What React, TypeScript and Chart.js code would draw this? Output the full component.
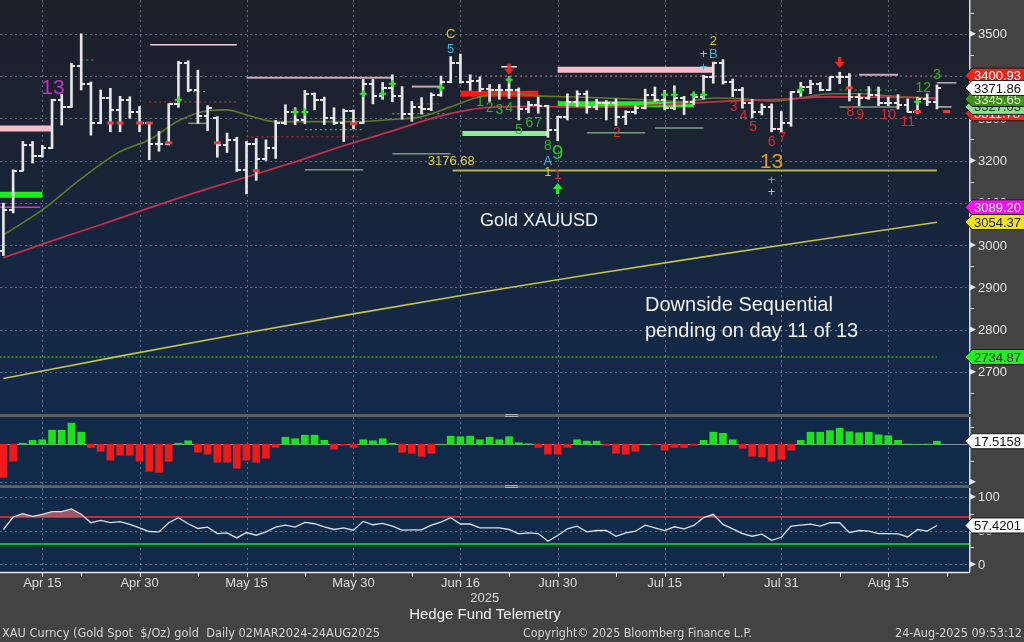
import React, { useEffect, useRef } from "react";
import { Chart, registerables } from "chart.js";
Chart.register(...registerables);

// ---------------- data ----------------
const xTickLabels = ["Apr 15", "Apr 30", "May 15", "May 30", "Jun 16", "Jun 30", "Jul 15", "Jul 31", "Aug 15"];
const xTickIdx = [4, 14, 25, 36, 47, 57, 68, 80, 91];
const xMinorIdx = [8, 20, 31, 42, 52, 63, 74, 86, 97];

const opens = [2985, 3082, 3176, 3237, 3211, 3230, 3343, 3327, 3424, 3381, 3288, 3349, 3319, 3344, 3316, 3288, 3239, 3240, 3334, 3430, 3366, 3306, 3300, 3236, 3249, 3178, 3240, 3204, 3230, 3290, 3314, 3295, 3357, 3343, 3300, 3290, 3318, 3289, 3380, 3353, 3372, 3352, 3311, 3326, 3322, 3356, 3386, 3432, 3385, 3389, 3370, 3368, 3368, 3368, 3322, 3332, 3328, 3273, 3303, 3339, 3357, 3326, 3336, 3336, 3302, 3314, 3324, 3355, 3343, 3325, 3348, 3339, 3350, 3397, 3431, 3387, 3368, 3337, 3314, 3326, 3275, 3290, 3363, 3373, 3380, 3368, 3397, 3398, 3350, 3348, 3356, 3336, 3336, 3332, 3316, 3345, 3338];
const highs = [3099, 3178, 3245, 3245, 3236, 3345, 3357, 3430, 3500, 3386, 3367, 3371, 3352, 3351, 3328, 3290, 3269, 3334, 3435, 3436, 3414, 3330, 3304, 3265, 3255, 3245, 3252, 3249, 3295, 3332, 3325, 3366, 3360, 3350, 3325, 3322, 3320, 3392, 3392, 3385, 3403, 3375, 3340, 3349, 3360, 3400, 3446, 3452, 3403, 3398, 3380, 3380, 3398, 3372, 3340, 3350, 3330, 3305, 3358, 3365, 3365, 3345, 3342, 3346, 3318, 3330, 3369, 3374, 3366, 3377, 3352, 3360, 3402, 3433, 3439, 3393, 3373, 3345, 3334, 3334, 3316, 3363, 3385, 3390, 3385, 3398, 3409, 3406, 3358, 3375, 3374, 3350, 3356, 3346, 3350, 3358, 3379];
const lows = [2975, 3076, 3176, 3194, 3208, 3229, 3284, 3326, 3367, 3260, 3287, 3268, 3268, 3300, 3268, 3202, 3222, 3237, 3326, 3363, 3288, 3271, 3208, 3219, 3174, 3121, 3153, 3200, 3205, 3285, 3285, 3287, 3320, 3285, 3285, 3245, 3275, 3288, 3334, 3345, 3339, 3298, 3293, 3310, 3318, 3352, 3384, 3383, 3366, 3363, 3340, 3345, 3347, 3296, 3313, 3312, 3255, 3247, 3296, 3328, 3312, 3320, 3296, 3283, 3285, 3310, 3322, 3340, 3320, 3320, 3309, 3332, 3345, 3383, 3381, 3351, 3324, 3301, 3308, 3268, 3268, 3281, 3352, 3358, 3365, 3366, 3382, 3341, 3330, 3345, 3330, 3330, 3322, 3315, 3312, 3330, 3322];
const closes = [3082, 3176, 3237, 3211, 3230, 3343, 3327, 3424, 3381, 3288, 3349, 3319, 3344, 3316, 3288, 3239, 3240, 3334, 3430, 3366, 3306, 3325, 3236, 3249, 3178, 3240, 3204, 3230, 3290, 3314, 3295, 3357, 3343, 3300, 3290, 3318, 3289, 3380, 3353, 3372, 3352, 3311, 3326, 3322, 3356, 3386, 3432, 3385, 3389, 3370, 3368, 3368, 3368, 3322, 3332, 3328, 3273, 3303, 3339, 3357, 3326, 3336, 3336, 3302, 3314, 3324, 3355, 3343, 3325, 3348, 3339, 3350, 3397, 3431, 3387, 3368, 3337, 3314, 3326, 3275, 3290, 3363, 3373, 3380, 3368, 3397, 3398, 3350, 3348, 3356, 3336, 3336, 3332, 3316, 3345, 3338, 3372];

// moving averages: [day index, price]
const ma20: [number, number][] = [[0, 3024], [4, 3083], [8, 3157], [12, 3221], [15, 3249], [18, 3294], [21, 3318], [23, 3320], [25, 3308], [28, 3292], [32, 3292], [36, 3292], [40, 3297], [43, 3304], [46, 3327], [49, 3351], [52, 3358], [55, 3353], [58, 3351], [62, 3348], [66, 3344], [70, 3339], [73, 3348], [76, 3346], [79, 3341], [82, 3348], [85, 3358], [88, 3358], [91, 3353], [96, 3346]];
const ma50: [number, number][] = [[0, 2970], [5, 3010], [10, 3048], [15, 3088], [20, 3126], [25, 3161], [30, 3197], [35, 3235], [40, 3270], [45, 3306], [50, 3326], [55, 3328], [60, 3326], [65, 3329], [70, 3335], [75, 3341], [80, 3345], [85, 3351], [90, 3350], [96, 3348]];
const ma200: [number, number][] = [[0, 2684], [12, 2737], [24, 2788], [36, 2837], [48, 2884], [60, 2929], [72, 2972], [84, 3013], [96, 3054]];

// level lines: [start idx, end idx, price, kind]
const levelSegments: [number, number, number, string][] = [
  [-0.4, 5, 3276, "pinkBand"],
  [57, 73, 3415, "pinkBand"],
  [-0.4, 4, 3119, "greenBand"],
  [57, 71, 3333, "greenBand"],
  [47.2, 56, 3264, "lightGreenBand"],
  [47, 55, 3358, "redBand"],
  [-0.4, 3.8, 3089.2, "magentaLine"],
  [15.1, 24, 3474, "pinkThin"],
  [25, 40, 3396, "mauveThin"],
  [42, 45, 3375, "mauveThin"],
  [88, 92, 3403, "mauveThin"],
  [15, 24, 3339, "redDotted"],
  [25, 36.5, 3256, "redDotted"],
  [48, 97, 3400.93, "redDotted"],
  [42, 45, 3334, "redDotted"],
  [31, 37, 3273, "greenDotted"],
  [40, 46, 3311, "greenDotted"],
  [86, 92, 3367, "greenDotted"],
  [19, 21, 3363, "greenDotted"],
  [8, 9.5, 3438, "greenDotted"],
  [31, 37, 3178, "grayGreen"],
  [40, 46, 3216, "grayGreen"],
  [60, 66, 3266, "grayGreen"],
  [67, 72, 3277, "grayGreen"],
  [86, 92, 3327, "grayGreen"],
  [19, 21, 3288, "grayGreen"],
  [96, 98, 3384, "grayThin"],
  [96, 97.5, 3327, "grayThin"],
  [46.2, 96, 3176.68, "oliveLevel"],
  [-0.4, 96, 2734.87, "limeDotted"],
  [51.2, 52.8, 3422, "whiteThin"],
];

const greenCrosses: [number, number][] = [[18, 3344], [30, 3315], [31, 3315], [37, 3358], [39, 3358], [40, 3382], [45, 3372], [52, 3391], [68, 3356], [69, 3356], [71, 3356], [72, 3356], [82, 3367], [94, 3339]];
const redDashes: [number, number][] = [[11, 3289], [12, 3289], [14, 3289], [15, 3289], [17, 3242], [22, 3242], [26, 3176], [36, 3287], [87, 3372], [94, 3316], [97, 3316]];
const redDownArrows: [number, number][] = [[52, 3415], [86, 3431]];
const greenUpArrows: [number, number][] = [[57, 3135]];

// TD sequential labels: [text, idx, price, kind]
const tdLabels: [string, number, number, string][] = [
  ["13", 5.1, 3372, "magenta13"],
  ["C", 46, 3498, "yellow"], ["5", 46, 3462, "cyan"],
  ["1", 49, 3339, "buy"], ["2", 50, 3325, "buy"], ["3", 51, 3320, "buy"], ["4", 52, 3325, "buy"],
  ["5", 53, 3273, "buy"], ["6", 54.1, 3289, "buy"], ["7", 55, 3289, "buy"], ["8", 56, 3233, "buy"],
  ["9", 57, 3218, "buyNine"],
  ["A", 56, 3197, "cyan"], ["1", 56, 3171, "yellow"], ["1", 57, 3166, "sell"],
  ["2", 63.1, 3266, "sell"],
  ["2", 73, 3481, "yellow"], ["+", 72, 3450, "yellow"], ["B", 73, 3450, "cyan"], ["+", 72, 3420, "cyan"],
  ["3", 75.1, 3327, "sell"], ["4", 76.1, 3304, "sell"], ["5", 77.1, 3280, "sell"], ["6", 79, 3244, "sell"], ["7", 80.1, 3254, "sell"],
  ["13", 79, 3195, "orange13"], ["+", 79, 3154, "cyan"], ["+", 79, 3124, "yellow"],
  ["8", 87.1, 3315, "sell"], ["9", 88.1, 3308, "sell"], ["10", 91, 3308, "sell"], ["11", 93, 3292, "sell"],
  ["12", 94.6, 3372, "buy"], ["3", 96, 3401, "buy"],
  ["3176.68", 46.05, 3197, "oliveLabel"],
];

const priceGrid = [2600, 2700, 2800, 2900, 3000, 3100, 3200, 3300, 3400, 3500];
const priceLabels = [2700, 2800, 2900, 3000, 3100, 3200, 3300, 3400, 3500];
const priceMinor = [2650, 2750, 2850, 2950, 3050, 3150, 3250, 3350, 3450, 3550];
const priceBoxes: [number, string][] = [
  [3311.78, "red"], [3327.03, "lightGreen"], [3400.93, "red"], [3345.65, "green"], [3371.86, "white"],
  [3089.2, "magenta"], [3054.37, "yellow"], [2734.87, "lime"],
];

const histValues = [-193, -99, 6, 23, 26, 82, 82, 123, 70, -19, -41, -93, -64, -64, -99, -158, -164, -99, 6, 20, -47, -58, -105, -105, -140, -93, -105, -82, -18, 41, 32, 53, 53, 23, -29, -6, -18, 26, 20, 32, 6, -47, -53, -70, -53, 0, 47, 44, 47, 26, 41, 26, 44, 9, 3, -18, -58, -58, -18, 26, 18, 18, -6, -53, -58, -41, 0, -2, -35, -18, -19, -6, 23, 70, 64, 26, -23, -70, -73, -99, -88, -35, 23, 70, 70, 79, 93, 73, 67, 70, 55, 50, 23, 1, 0, 1, 17.5158];
const histGrid = [-219];
const histMinor = [100, -100];

const rsiValues = [51.5, 70, 75, 71, 74, 78, 78, 82, 74, 61.6, 65, 61.6, 63, 59, 54, 48.5, 48, 61.6, 69, 60, 53, 55, 45.5, 46.5, 39, 47, 43, 48, 55, 58, 55, 62, 60, 55.5, 51.5, 54, 50.5, 63.5, 58.5, 60.6, 56.5, 50.5, 51, 51, 58, 62.5, 69, 59.6, 59.6, 54, 54, 54, 51.5, 45, 46.5, 45.5, 34, 42.5, 52.5, 56.5, 48, 50, 50, 41.5, 46.5, 49, 58, 54, 50, 55.5, 52.5, 57.5, 69, 74, 59, 52.5, 45.5, 41.5, 44.5, 35.5, 40, 56.5, 58, 59.5, 56.5, 61.5, 61.5, 47, 50, 49, 45.5, 45.5, 45, 40.5, 51.5, 49, 57.4201];
const rsiLevels = [70, 30];
const rsiGrid = [100, 50, 0];
const rsiMinor = [75, 25];

// ---------------- styles ----------------
const FONT = "'Liberation Sans', Arial, sans-serif";
const AXIS_W = 55;
const X_MIN = -0.35;
const X_MAX = 99.3;
const GRID = "rgba(150,165,190,0.55)";
const GRAY_BG = "#434343";
const PANEL_BG = "#122a4a";
const BAR_COLOR = "#e6e6e6";

const LEVEL_STYLE: Record<string, { color: string; width: number; dash?: number[] }> = {
  pinkBand: { color: "#f7bccb", width: 6 },
  greenBand: { color: "#1fee1f", width: 6 },
  lightGreenBand: { color: "#93ec93", width: 5 },
  redBand: { color: "#ff1616", width: 6 },
  magentaLine: { color: "#d828d8", width: 1.5 },
  pinkThin: { color: "#f2d2da", width: 1.5 },
  mauveThin: { color: "#c9a6b6", width: 2 },
  redDotted: { color: "#c02a30", width: 1.2, dash: [2, 3] },
  greenDotted: { color: "#2ec22e", width: 1.2, dash: [2, 3] },
  grayGreen: { color: "#7d9a84", width: 1.5 },
  grayThin: { color: "#b8b8b8", width: 1.5 },
  oliveLevel: { color: "#b8b048", width: 2 },
  limeDotted: { color: "#22d022", width: 1.2, dash: [2, 2] },
  whiteThin: { color: "#f0f0f0", width: 1.5 },
};

const TD_STYLE: Record<string, { color: string; size: number }> = {
  magenta13: { color: "#c22fc8", size: 21 },
  orange13: { color: "#e59a25", size: 21 },
  yellow: { color: "#d6c640", size: 13 },
  cyan: { color: "#3ab6e0", size: 13 },
  buy: { color: "#2cb52c", size: 14 },
  buyNine: { color: "#2cc02c", size: 21 },
  sell: { color: "#dd2a2a", size: 14 },
  oliveLabel: { color: "#d8d04a", size: 13 },
};

const BOX_STYLE: Record<string, { bg: string; fg: string }> = {
  red: { bg: "#e8281e", fg: "#ffffff" },
  lightGreen: { bg: "#8de08d", fg: "#1a3a1a" },
  green: { bg: "#3f8f1a", fg: "#e4f4dc" },
  white: { bg: "#ffffff", fg: "#111111" },
  magenta: { bg: "#f012f0", fg: "#ffffff" },
  yellow: { bg: "#f2e418", fg: "#222222" },
  lime: { bg: "#22ee22", fg: "#0a2a0a" },
};

// ---------------- helpers ----------------
function tickCanvas(side: "left" | "right") {
  const c = document.createElement("canvas");
  c.width = 8;
  c.height = 2;
  const g = c.getContext("2d")!;
  g.fillStyle = BAR_COLOR;
  if (side === "left") g.fillRect(0, 0, 4.5, 2);
  else g.fillRect(3.5, 0, 4.5, 2);
  return c;
}

function baseOptions(yMin: number, yMax: number, padBottom = 0): any {
  return {
    responsive: false,
    animation: false,
    devicePixelRatio: 1,
    events: [],
    layout: { autoPadding: false, padding: { left: 0, right: AXIS_W, top: 0, bottom: padBottom } },
    plugins: { legend: { display: false }, tooltip: { enabled: false } },
    scales: {
      x: { type: "linear", min: X_MIN, max: X_MAX, display: false, offset: false },
      y: { type: "linear", min: yMin, max: yMax, display: false },
    },
  };
}

function fillBackground(chart: any, panel: string | CanvasGradient) {
  const { ctx, chartArea: a } = chart;
  ctx.save();
  ctx.fillStyle = GRAY_BG;
  ctx.fillRect(0, 0, chart.width, chart.height);
  ctx.fillStyle = panel;
  ctx.fillRect(a.left, a.top, a.right - a.left, a.bottom - a.top);
  ctx.restore();
}

function drawGrid(chart: any, yValues: number[]) {
  const { ctx, chartArea: a, scales } = chart;
  ctx.save();
  ctx.strokeStyle = GRID;
  ctx.lineWidth = 1;
  ctx.setLineDash([2, 3]);
  for (const v of yValues) {
    const py = Math.round(scales.y.getPixelForValue(v)) + 0.5;
    ctx.beginPath();
    ctx.moveTo(a.left, py);
    ctx.lineTo(a.right, py);
    ctx.stroke();
  }
  for (const i of xTickIdx) {
    const px = Math.round(scales.x.getPixelForValue(i)) + 0.5;
    ctx.beginPath();
    ctx.moveTo(px, a.top);
    ctx.lineTo(px, a.bottom);
    ctx.stroke();
  }
  ctx.restore();
}

function drawRightAxis(chart: any, majors: number[], labels: number[], minors: number[]) {
  const { ctx, chartArea: a, scales } = chart;
  const x = a.right;
  ctx.save();
  ctx.strokeStyle = "#d8d8d8";
  ctx.lineWidth = 1.5;
  ctx.beginPath();
  ctx.moveTo(x + 0.75, a.top);
  ctx.lineTo(x + 0.75, a.bottom);
  ctx.stroke();
  ctx.lineWidth = 1;
  for (const v of minors) {
    const py = Math.round(scales.y.getPixelForValue(v)) + 0.5;
    ctx.beginPath();
    ctx.moveTo(x, py);
    ctx.lineTo(x + 5, py);
    ctx.stroke();
  }
  ctx.fillStyle = "#e4e4e4";
  ctx.font = `13px ${FONT}`;
  ctx.textBaseline = "middle";
  ctx.textAlign = "left";
  for (const v of majors) {
    const py = scales.y.getPixelForValue(v);
    ctx.beginPath();
    ctx.moveTo(x, py - 3.5);
    ctx.lineTo(x + 7, py);
    ctx.lineTo(x, py + 3.5);
    ctx.closePath();
    ctx.fill();
    if (labels.includes(v)) ctx.fillText(String(v), x + 9, py + 1);
  }
  ctx.restore();
}

function valueBox(chart: any, value: number, text: string, kind: string) {
  const { ctx, chartArea: a, scales } = chart;
  const st = BOX_STYLE[kind];
  const y = scales.y.getPixelForValue(value);
  const x0 = a.right - 4;
  const h = 15;
  ctx.save();
  ctx.beginPath();
  ctx.moveTo(x0, y);
  ctx.lineTo(x0 + 7, y - h / 2);
  ctx.lineTo(chart.width + 2, y - h / 2);
  ctx.lineTo(chart.width + 2, y + h / 2);
  ctx.lineTo(x0 + 7, y + h / 2);
  ctx.closePath();
  ctx.fillStyle = st.bg;
  ctx.fill();
  ctx.strokeStyle = "#1a1a1a";
  ctx.lineWidth = 1;
  ctx.stroke();
  ctx.fillStyle = st.fg;
  ctx.font = `13px ${FONT}`;
  ctx.textBaseline = "middle";
  ctx.textAlign = "left";
  ctx.fillText(text, a.right + 5, y + 1);
  ctx.restore();
}

function drawArrow(ctx: CanvasRenderingContext2D, x: number, y: number, dir: number, color: string) {
  ctx.save();
  ctx.fillStyle = color;
  ctx.beginPath();
  ctx.moveTo(x - 1.6, y - 6 * dir);
  ctx.lineTo(x + 1.6, y - 6 * dir);
  ctx.lineTo(x + 1.6, y - 1 * dir);
  ctx.lineTo(x + 5, y - 1 * dir);
  ctx.lineTo(x, y + 5 * dir);
  ctx.lineTo(x - 5, y - 1 * dir);
  ctx.lineTo(x - 1.6, y - 1 * dir);
  ctx.closePath();
  ctx.fill();
  ctx.restore();
}

// ---------------- charts ----------------
function makeMain(canvas: HTMLCanvasElement) {
  const idx = opens.map((_, i) => i);
  const datasets: any[] = [];
  levelSegments.forEach(([s, e, p, k]) => {
    const st = LEVEL_STYLE[k];
    datasets.push({
      type: "line",
      data: [{ x: s, y: p }, { x: e, y: p }],
      borderColor: st.color,
      borderWidth: st.width,
      borderDash: st.dash || [],
      borderCapStyle: "butt",
      pointRadius: 0,
      order: 10,
    });
  });
  const maLine = (pts: [number, number][], color: string, w: number) => ({
    type: "line",
    data: pts.map(([x, y]) => ({ x, y })),
    borderColor: color,
    borderWidth: w,
    pointRadius: 0,
    cubicInterpolationMode: "monotone",
    order: 6,
  });
  datasets.push(maLine(ma200, "#c9c24a", 1.6));
  datasets.push(maLine(ma50, "#c4304e", 1.8));
  datasets.push(maLine(ma20, "#607a2c", 1.6));
  datasets.push({
    type: "bar",
    data: idx.map((i) => ({ x: i, y: [lows[i], highs[i]] })),
    backgroundColor: BAR_COLOR,
    barThickness: 2,
    grouped: false,
    order: 3,
  });
  datasets.push({
    type: "line",
    showLine: false,
    data: idx.map((i) => ({ x: i, y: opens[i] })),
    pointStyle: tickCanvas("left"),
    pointRadius: 3,
    order: 2,
  });
  datasets.push({
    type: "line",
    showLine: false,
    data: idx.map((i) => ({ x: i, y: closes[i] })),
    pointStyle: tickCanvas("right"),
    pointRadius: 3,
    order: 2,
  });
  datasets.push({
    type: "line",
    showLine: false,
    data: greenCrosses.map(([x, y]) => ({ x, y })),
    pointStyle: "cross",
    pointRadius: 3.5,
    borderColor: "#3ae03a",
    borderWidth: 2,
    order: 1,
  });
  datasets.push({
    type: "line",
    showLine: false,
    data: redDashes.map(([x, y]) => ({ x, y })),
    pointStyle: "line",
    pointRadius: 3.5,
    borderColor: "#e04040",
    borderWidth: 3,
    order: 1,
  });

  const plugin = {
    id: "mainDeco",
    beforeDraw(chart: any) {
      const { ctx, chartArea: a } = chart;
      const g = ctx.createLinearGradient(0, a.top, 0, a.bottom);
      g.addColorStop(0, "#1d2029");
      g.addColorStop(0.3, "#1b2231");
      g.addColorStop(0.6, "#16263f");
      g.addColorStop(1, "#122a4b");
      fillBackground(chart, g);
      drawGrid(chart, priceGrid);
    },
    afterDatasetsDraw(chart: any) {
      const { ctx, scales } = chart;
      const xs = scales.x;
      const ys = scales.y;
      ctx.save();
      ctx.textAlign = "center";
      ctx.textBaseline = "middle";
      for (const [t, i, p, k] of tdLabels) {
        const st = TD_STYLE[k];
        ctx.font = `${st.size}px ${FONT}`;
        ctx.fillStyle = st.color;
        ctx.fillText(t, xs.getPixelForValue(i), ys.getPixelForValue(p));
      }
      for (const [i, p] of redDownArrows) drawArrow(ctx, xs.getPixelForValue(i), ys.getPixelForValue(p), 1, "#ff2020");
      for (const [i, p] of greenUpArrows) drawArrow(ctx, xs.getPixelForValue(i), ys.getPixelForValue(p), -1, "#22ee22");
      ctx.fillStyle = "#f2f2f2";
      ctx.textAlign = "left";
      ctx.font = `18px ${FONT}`;
      ctx.fillText("Gold XAUUSD", 480, 221);
      ctx.font = `20px ${FONT}`;
      ctx.fillText("Downside Sequential", 645, 305);
      ctx.fillText("pending on day 11 of 13", 645, 331);
      ctx.restore();
      drawRightAxis(chart, priceLabels, priceLabels, priceMinor);
      for (const [v, k] of priceBoxes) valueBox(chart, v, v.toFixed(2), k);
    },
  };

  return new Chart(canvas, {
    type: "line",
    data: { datasets },
    options: baseOptions(2600, 3580),
    plugins: [plugin],
  } as any);
}

function makeHist(canvas: HTMLCanvasElement) {
  const plugin = {
    id: "histDeco",
    beforeDraw(chart: any) {
      fillBackground(chart, PANEL_BG);
      drawGrid(chart, histGrid);
      const { ctx, chartArea: a, scales } = chart;
      const y0 = Math.round(scales.y.getPixelForValue(0)) + 0.5;
      ctx.save();
      ctx.strokeStyle = "#8a94a6";
      ctx.lineWidth = 1;
      ctx.beginPath();
      ctx.moveTo(a.left, y0);
      ctx.lineTo(a.right, y0);
      ctx.stroke();
      ctx.restore();
    },
    afterDatasetsDraw(chart: any) {
      drawRightAxis(chart, histGrid, [], histMinor);
      const last = histValues[histValues.length - 1];
      valueBox(chart, last, last.toFixed(4), "white");
    },
  };
  return new Chart(canvas, {
    type: "bar",
    data: {
      datasets: [
        {
          type: "bar",
          data: histValues.map((v, i) => ({ x: i, y: v })),
          backgroundColor: histValues.map((v) => (v >= 0 ? "#1fe01f" : "#f01a1a")),
          barThickness: 7,
          grouped: false,
        },
      ],
    },
    options: baseOptions(-238, 159),
    plugins: [plugin],
  } as any);
}

function makeRsi(canvas: HTMLCanvasElement) {
  const plugin = {
    id: "rsiDeco",
    beforeDraw(chart: any) {
      const { ctx, chartArea: a } = chart;
      fillBackground(chart, PANEL_BG);
      drawGrid(chart, rsiGrid);
      ctx.save();
      ctx.fillStyle = "#0b3f26";
      const y30 = chart.scales.y.getPixelForValue(30);
      ctx.fillRect(a.left, y30, a.right - a.left, 3);
      ctx.restore();
    },
    afterDatasetsDraw(chart: any) {
      const { ctx, chartArea: a, scales } = chart;
      drawRightAxis(chart, rsiGrid, rsiGrid, rsiMinor);
      const last = rsiValues[rsiValues.length - 1];
      valueBox(chart, last, last.toFixed(4), "white");
      ctx.save();
      // x axis
      ctx.strokeStyle = "#e8e8e8";
      ctx.lineWidth = 1.5;
      ctx.beginPath();
      ctx.moveTo(a.left, a.bottom + 0.5);
      ctx.lineTo(a.right + 1, a.bottom + 0.5);
      ctx.stroke();
      ctx.lineWidth = 1;
      for (const i of [...xTickIdx, ...xMinorIdx]) {
        const px = Math.round(scales.x.getPixelForValue(i)) + 0.5;
        ctx.beginPath();
        ctx.moveTo(px, a.bottom);
        ctx.lineTo(px, a.bottom + 5);
        ctx.stroke();
      }
      ctx.fillStyle = "#dcdcdc";
      ctx.font = `13px ${FONT}`;
      ctx.textAlign = "center";
      ctx.textBaseline = "middle";
      xTickLabels.forEach((l, k) => ctx.fillText(l, scales.x.getPixelForValue(xTickIdx[k]), a.bottom + 11));
      ctx.fillText("2025", scales.x.getPixelForValue(49.5), a.bottom + 26);
      ctx.fillStyle = "#f0f0f0";
      ctx.font = `15px ${FONT}`;
      ctx.fillText("Hedge Fund Telemetry", 485, a.bottom + 43);
      ctx.fillStyle = "#d4d4d4";
      ctx.font = `13px 'DejaVu Sans', ${FONT}`;
      ctx.textAlign = "left";
      const fy = a.bottom + 62;
      ctx.fillText("XAU Curncy (Gold Spot  $/Oz) gold  Daily 02MAR2024-24AUG2025", 2, fy, 378);
      ctx.fillText("Copyright\u00A9 2025 Bloomberg Finance L.P.", 523, fy, 229);
      ctx.fillText("24-Aug-2025 09:53:12", 895, fy, 127);
      ctx.restore();
    },
  };
  const idx = rsiValues.map((_, i) => i);
  const datasets: any[] = [
    {
      type: "line",
      data: [{ x: X_MIN, y: rsiLevels[0] }, { x: X_MAX, y: rsiLevels[0] }],
      borderColor: "#c22a40",
      borderWidth: 2,
      pointRadius: 0,
      order: 5,
    },
    {
      type: "line",
      data: [{ x: X_MIN, y: rsiLevels[1] }, { x: X_MAX, y: rsiLevels[1] }],
      borderColor: "#27a847",
      borderWidth: 2,
      pointRadius: 0,
      order: 5,
    },
    {
      type: "line",
      data: idx.map((i) => ({ x: i, y: rsiValues[i] })),
      borderColor: "#d9dfea",
      borderWidth: 1.3,
      pointRadius: 0,
      fill: { target: { value: 70 }, above: "rgba(196,96,110,0.8)", below: "rgba(0,0,0,0)" },
      order: 1,
    },
  ];
  return new Chart(canvas, {
    type: "line",
    data: { datasets },
    options: baseOptions(-11.4, 112.9, 70),
    plugins: [plugin],
  } as any);
}

export default function App() {
  const c1 = useRef<HTMLCanvasElement>(null);
  const c2 = useRef<HTMLCanvasElement>(null);
  const c3 = useRef<HTMLCanvasElement>(null);
  useEffect(() => {
    const charts = [makeMain(c1.current!), makeHist(c2.current!), makeRsi(c3.current!)];
    return () => charts.forEach((c) => c.destroy());
  }, []);
  const abs = (top: number): React.CSSProperties => ({ position: "absolute", left: 0, top, display: "block" });
  const handle = (top: number): React.CSSProperties => ({
    position: "absolute",
    left: 505,
    top,
    width: 13,
    height: 1,
    borderTop: "1px solid #b0b0b0",
    borderBottom: "1px solid #b0b0b0",
  });
  return (
    <div style={{ position: "fixed", left: 0, top: 0, width: 1024, height: 642, background: GRAY_BG, overflow: "hidden" }}>
      <canvas ref={c1} width={1024} height={414} style={abs(0)} />
      <div style={{ position: "absolute", left: 0, top: 414, width: 969, height: 3, background: "#5e5e5e" }} />
      <div style={handle(414)} />
      <canvas ref={c2} width={1024} height={68} style={abs(417)} />
      <div style={{ position: "absolute", left: 0, top: 485, width: 969, height: 3, background: "#5e5e5e" }} />
      <div style={handle(485)} />
      <canvas ref={c3} width={1024} height={154} style={abs(488)} />
    </div>
  );
}
